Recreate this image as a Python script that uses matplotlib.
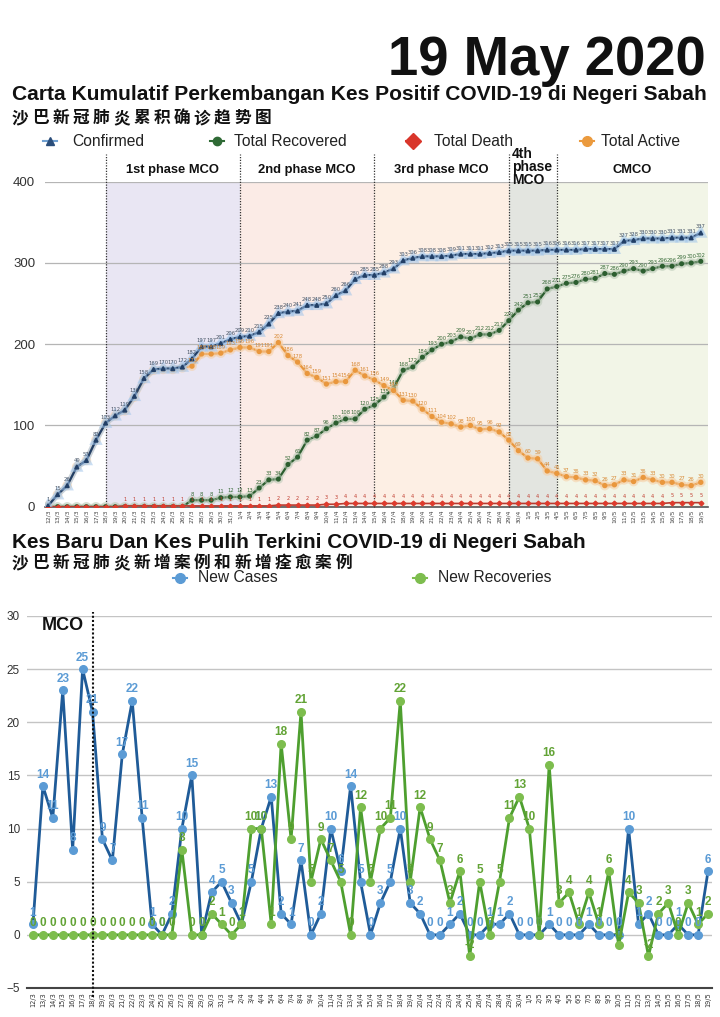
import matplotlib
matplotlib.use("Agg")
import matplotlib.pyplot as plt
from matplotlib.lines import Line2D
import matplotlib.patheffects as pe

# ---------------- data ----------------
dates = ["12/3", "13/3", "14/3", "15/3", "16/3", "17/3", "18/3", "19/3", "20/3", "21/3",
         "22/3", "23/3", "24/3", "25/3", "26/3", "27/3", "28/3", "29/3", "30/3", "31/3",
         "1/4", "2/4", "3/4", "4/4", "5/4", "6/4", "7/4", "8/4", "9/4", "10/4",
         "11/4", "12/4", "13/4", "14/4", "15/4", "16/4", "17/4", "18/4", "19/4", "20/4",
         "21/4", "22/4", "23/4", "24/4", "25/4", "26/4", "27/4", "28/4", "29/4", "30/4",
         "1/5", "2/5", "3/5", "4/5", "5/5", "6/5", "7/5", "8/5", "9/5", "10/5",
         "11/5", "12/5", "13/5", "14/5", "15/5", "16/5", "17/5", "18/5", "19/5"]

confirmed = [1, 15, 26, 49, 57, 82, 103, 112, 119, 136, 158, 169,
             170, 170, 172, 182, 197, 197, 201, 206, 209, 210, 215, 225,
             238, 240, 241, 248, 248, 250, 260, 266, 280, 285, 285, 288,
             293, 303, 306, 308, 308, 308, 309, 311, 311, 311, 312, 313,
             315, 315, 315, 315, 316, 316, 316, 316, 317, 317, 317, 317,
             327, 328, 330, 330, 330, 331, 331, 331, 337]

recovered = [0, 0, 0, 0, 0, 0, 0, 0, 0, 0, 0, 0,
             0, 0, 0, 8, 8, 8, 11, 12, 12, 13, 23, 33,
             34, 52, 61, 82, 87, 96, 103, 108, 108, 120, 125, 135,
             146, 168, 172, 184, 193, 200, 203, 209, 207, 212, 212, 217,
             229, 242, 251, 252, 268, 271, 275, 276, 280, 281, 287, 286,
             290, 293, 290, 293, 296, 296, 299, 300, 302]

deaths = [0, 0, 0, 0, 0, 0, 0, 0, 1, 1, 1, 1,
          1, 1, 1, 1, 1, 1, 1, 1, 1, 1, 1, 1,
          2, 2, 2, 2, 2, 3, 3, 4, 4, 4, 4, 4,
          4, 4, 4, 4, 4, 4, 4, 4, 4, 4, 4, 4,
          4, 4, 4, 4, 4, 4, 4, 4, 4, 4, 4, 4,
          4, 4, 4, 4, 4, 5, 5, 5, 5]

active = [1, 15, 26, 49, 57, 82, 103, 112, 118, 135, 157, 168,
          169, 169, 171, 173, 188, 188, 189, 193, 196, 196, 191, 191,
          202, 186, 178, 164, 159, 151, 154, 154, 168, 161, 156, 149,
          143, 131, 130, 120, 111, 104, 102, 98, 100, 95, 96, 92,
          82, 69, 60, 59, 44, 41, 37, 36, 33, 32, 26, 27,
          33, 31, 36, 33, 30, 30, 27, 26, 30]

new_cases = [1, 14, 11, 23, 8, 25, 21, 9, 7, 17, 22, 11,
             1, 0, 2, 10, 15, 0, 4, 5, 3, 1, 5, 10,
             13, 2, 1, 7, 0, 2, 10, 6, 14, 5, 0, 3,
             5, 10, 3, 2, 0, 0, 1, 2, 0, 0, 1, 1,
             2, 0, 0, 0, 1, 0, 0, 0, 1, 0, 0, 0,
             10, 1, 2, 0, 0, 1, 0, 0, 6]

new_recoveries = [0, 0, 0, 0, 0, 0, 0, 0, 0, 0, 0, 0,
                  0, 0, 0, 8, 0, 0, 2, 1, 0, 1, 10, 10,
                  1, 18, 9, 21, 5, 9, 7, 5, 0, 12, 5, 10,
                  11, 22, 5, 12, 9, 7, 3, 6, -2, 5, 0, 5,
                  11, 13, 10, 0, 16, 3, 4, 1, 4, 1, 6, -1,
                  4, 3, -2, 2, 3, 0, 3, 1, 2]

phase_names = ["1st phase MCO", "2nd phase MCO", "3rd phase MCO", "4th\nphase\nMCO", "CMCO"]
phase_start = ["18/3", "1/4", "15/4", "29/4", "4/5"]
phase_colors = ["#e9e6f3", "#fbebe6", "#fdefe4", "#e3e5e0", "#f2f5e7"]

# ---------------- layout helpers ----------------
W, H = 720, 1017
fig = plt.figure(figsize=(W / 100, H / 100), dpi=100)
fig.patch.set_facecolor("white")


def fx(px):
    return px / W


def fy(py):
    return 1 - py / H


SANS = ["Liberation Sans", "DejaVu Sans"]
CJK = ["Noto Sans CJK SC", "DejaVu Sans"]
renderer = fig.canvas.get_renderer()


def fit(t, width_px):
    bb = t.get_window_extent(renderer=renderer)
    t.set_fontsize(t.get_fontsize() * width_px / bb.width)
    return t.get_fontsize()


x = list(range(len(dates)))

# ---------------- headings ----------------
t = fig.text(fx(706), fy(75), "19 May 2020", ha="right", va="baseline",
             fontweight="bold", family=SANS, fontsize=40, color="#111111")
fit(t, 318)

t = fig.text(fx(12), fy(95), "Carta Kumulatif Perkembangan Kes Positif COVID-19 di Negeri Sabah",
             ha="left", va="center", fontweight="bold", family=SANS, fontsize=14, color="#111111")
fit(t, 696)

for k, ch in enumerate("沙巴新冠肺炎累积确诊趋势图"):
    fig.text(fx(12 + 20.2 * k), fy(118), ch, ha="left", va="center", family=CJK,
             fontweight="bold", fontsize=12, color="#111111")

t = fig.text(fx(12), fy(542), "Kes Baru Dan Kes Pulih Terkini COVID-19 di Negeri Sabah",
             ha="left", va="center", fontweight="bold", family=SANS, fontsize=14, color="#111111")
fit(t, 573)

for k, ch in enumerate("沙巴新冠肺炎新增案例和新增痊愈案例"):
    fig.text(fx(12 + 20.2 * k), fy(563), ch, ha="left", va="center", family=CJK,
             fontweight="bold", fontsize=12, color="#111111")

# ---------------- legends ----------------
tl = fig.text(fx(234), fy(141), "Total Recovered", ha="left", va="center", family=SANS,
              fontsize=11, color="#222222")
lfs = fit(tl, 113)


def legend_item(mx, y, tx, label, color, marker, ms, lcolor=None):
    fig.add_artist(Line2D([fx(mx - 7), fx(mx + 7)], [fy(y), fy(y)], color=lcolor or color,
                          lw=1.5, transform=fig.transFigure))
    fig.add_artist(Line2D([fx(mx)], [fy(y)], color=color, marker=marker, ms=ms, lw=0,
                          transform=fig.transFigure))
    if label != "Total Recovered":
        fig.text(fx(tx), fy(y), label, ha="left", va="center", family=SANS, fontsize=lfs,
                 color="#222222")


legend_item(50, 141, 72, "Confirmed", "#2a4d7a", "^", 6, "#6f9fd0")
legend_item(217, 141, 234, "Total Recovered", "#2f6a35", "o", 6)
legend_item(413, 141, 434, "Total Death", "#d9362b", "D", 8)
legend_item(587, 141, 601, "Total Active", "#eb9a3d", "o", 7)

legend_item(180, 578, 198, "New Cases", "#5b9bd5", "o", 7)
legend_item(420, 578, 438, "New Recoveries", "#7dbd4e", "o", 7)

# ---------------- top chart ----------------
ax1 = fig.add_axes([fx(45), fy(506.7), fx(708) - fx(45), (506.7 - 181.7) / H])
ax1.set_xlim(-0.31, 68.75)
ax1.set_ylim(0, 400)
ax1.set_facecolor("none")
ax1.set_axisbelow(True)

bounds = [dates.index(s) for s in phase_start] + [68.75]
for k in range(len(phase_names)):
    ax1.axvspan(bounds[k], bounds[k + 1], color=phase_colors[k], zorder=0, lw=0)
for b in bounds[:-1]:
    ax1.plot([b, b], [0, 434], ls=(0, (1, 1.2)), color="#333333", lw=0.9, clip_on=False, zorder=3)
for k, name in enumerate(phase_names):
    if "\n" in name:
        ax1.text(bounds[k] + 0.3, 443, name, ha="left", va="top", fontsize=10,
                 fontweight="bold", family=SANS, linespacing=0.9, color="#111111")
    else:
        ax1.text((bounds[k] + bounds[k + 1]) / 2, 414, name, ha="center", va="center",
                 fontsize=9.3, fontweight="bold", family=SANS, color="#111111")

ax1.set_yticks([0, 100, 200, 300, 400])
ax1.yaxis.grid(True, color="#b5b5b5", lw=0.9)
ax1.tick_params(axis="y", length=0, pad=7, labelsize=9.5, labelcolor="#333333")
ax1.set_xticks(x)
ax1.set_xticklabels(dates, rotation=90, fontsize=4.3, color="#444444")
ax1.tick_params(axis="x", length=0, pad=2)
for s in ["top", "right", "left"]:
    ax1.spines[s].set_visible(False)
ax1.spines["bottom"].set_color("#555555")
ax1.spines["bottom"].set_linewidth(1.2)
for lab in ax1.get_yticklabels():
    lab.set_family(SANS)

glow = lambda c: [pe.Stroke(linewidth=4.2, foreground=c, alpha=0.55), pe.Normal()]
ax1.plot(x, recovered, color="#2c5e2f", lw=1.6, marker="o", ms=2.6, zorder=5,
         path_effects=glow("#b9c9b5"))
ax1.plot(x, active, color="#e9973d", lw=1.6, marker="o", ms=2.8, zorder=5,
         path_effects=glow("#f6cfa5"))
ax1.plot(x, deaths, color="#b83a2f", lw=1.2, marker="D", ms=2.4, mfc="#dd3b2d", mec="#dd3b2d",
         zorder=6)
ax1.plot(x, confirmed, color="#223f66", lw=1.6, marker="^", ms=2.8, zorder=7,
         path_effects=glow("#9fc4ea"))

for i in x:
    ax1.annotate(str(confirmed[i]), (i, confirmed[i]), xytext=(0, 2.5), textcoords="offset points",
                 ha="center", va="bottom", fontsize=3.8, color="#4a5666", zorder=8)
    if recovered[i] > 0:
        ax1.annotate(str(recovered[i]), (i, recovered[i]), xytext=(0, 2.5),
                     textcoords="offset points", ha="center", va="bottom", fontsize=3.8,
                     color="#3c6e3c", zorder=8)
        ax1.annotate(str(active[i]), (i, active[i]), xytext=(0, 2.5),
                     textcoords="offset points", ha="center", va="bottom", fontsize=3.8,
                     color="#d98a35", zorder=8)
    if deaths[i] > 0:
        ax1.annotate(str(deaths[i]), (i, deaths[i]), xytext=(0, 3),
                     textcoords="offset points", ha="center", va="bottom", fontsize=3.6,
                     color="#c0392b", zorder=8)

# ---------------- bottom chart ----------------
ax2 = fig.add_axes([fx(27), fy(988), fx(712) - fx(27), (988 - 616) / H])
ax2.set_xlim(-0.6, 68.4)
ax2.set_ylim(-5, 30)
ax2.set_axisbelow(True)
ax2.set_yticks(list(range(-5, 31, 5)))
ax2.yaxis.grid(True, color="#c4c4c4", lw=1.0)
ax2.tick_params(axis="y", length=0, pad=5, labelsize=8.5, labelcolor="#333333")
ax2.set_xticks(x)
ax2.set_xticklabels(dates, rotation=90, fontsize=4.8, color="#333333")
ax2.tick_params(axis="x", length=0, pad=3)
for s in ["top", "right", "left"]:
    ax2.spines[s].set_visible(False)
ax2.spines["bottom"].set_color("#444444")
ax2.spines["bottom"].set_linewidth(1.5)
for lab in ax2.get_yticklabels():
    lab.set_family(SANS)

mco = dates.index("18/3")
ax2.plot([mco, mco], [-5.8, 30.4], ls=(0, (1, 1)), color="#111111", lw=1.5, clip_on=False, zorder=6)
ax2.text(0.85, 29.1, "MCO", ha="left", va="center", fontsize=13, fontweight="bold",
         family=SANS, color="#111111")

ax2.plot(x, new_cases, color="#1f5b98", lw=2.0, marker="o", ms=5.5, mfc="#5b9bd5",
         mec="#5b9bd5", zorder=4)
ax2.plot(x, new_recoveries, color="#4e9f2f", lw=2.0, marker="o", ms=5.5, mfc="#7dbd4e",
         mec="#7dbd4e", zorder=5)

for i in x:
    ax2.annotate(str(new_cases[i]), (i, new_cases[i]), xytext=(0, 4), textcoords="offset points",
                 ha="center", va="bottom", fontsize=8.5, fontweight="bold", color="#5b9bd5",
                 family=SANS, zorder=7)
    ax2.annotate(str(new_recoveries[i]), (i, new_recoveries[i]), xytext=(0, 4),
                 textcoords="offset points", ha="center", va="bottom", fontsize=8.5,
                 fontweight="bold", color="#62a335", family=SANS, zorder=8)

fig.savefig("out.png", dpi=100, facecolor="white")
